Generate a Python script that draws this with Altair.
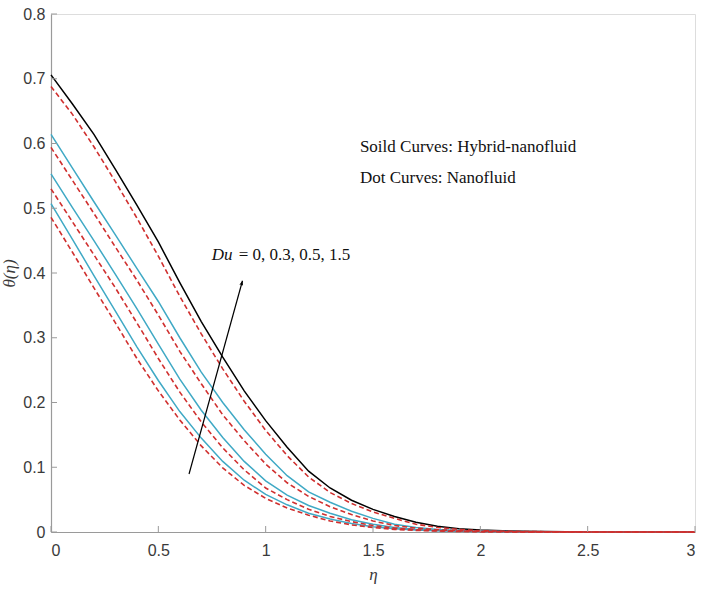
import altair as alt
import pandas as pd

# eta grid
eta = [0.0, 0.1, 0.2, 0.3, 0.4, 0.5, 0.6, 0.7, 0.8, 0.9, 1.0, 1.1, 1.2, 1.3, 1.4,
       1.5, 1.6, 1.7, 1.8, 1.9, 2.0, 2.2, 2.4, 2.6, 3.0]

# Hybrid nanofluid (solid) and nanofluid (dashed) temperature profiles
hyb_du15 = [0.706, 0.661, 0.614, 0.560, 0.505, 0.448, 0.385, 0.325, 0.270, 0.218, 0.172,
            0.131, 0.094, 0.068, 0.049, 0.035, 0.024, 0.015, 0.009, 0.005, 0.003, 0.001,
            0.0003, 0.0001, 0.0]
nano_du15 = [0.688, 0.645, 0.595, 0.541, 0.485, 0.426, 0.364, 0.306, 0.252, 0.202, 0.157,
             0.118, 0.085, 0.061, 0.044, 0.031, 0.021, 0.012, 0.007, 0.004, 0.002, 0.0007,
             0.0002, 0.0, 0.0]
hyb_du05 = [0.614, 0.562, 0.510, 0.459, 0.407, 0.356, 0.300, 0.247, 0.200, 0.158, 0.120,
            0.087, 0.062, 0.046, 0.032, 0.021, 0.012, 0.007, 0.004, 0.0025, 0.0015, 0.0005,
            0.0001, 0.0, 0.0]
nano_du05 = [0.594, 0.543, 0.492, 0.440, 0.389, 0.335, 0.279, 0.229, 0.181, 0.141, 0.105,
             0.076, 0.055, 0.039, 0.027, 0.017, 0.010, 0.006, 0.0035, 0.002, 0.001, 0.0003,
             0.0, 0.0, 0.0]
hyb_du03 = [0.553, 0.501, 0.450, 0.398, 0.345, 0.290, 0.236, 0.188, 0.146, 0.109, 0.079,
            0.057, 0.041, 0.029, 0.019, 0.012, 0.007, 0.004, 0.0025, 0.0015, 0.001, 0.0003,
            0.0, 0.0, 0.0]
nano_du03 = [0.530, 0.479, 0.428, 0.377, 0.323, 0.268, 0.216, 0.170, 0.130, 0.096, 0.068,
             0.050, 0.035, 0.024, 0.016, 0.010, 0.006, 0.0035, 0.002, 0.0012, 0.0007, 0.0002,
             0.0, 0.0, 0.0]
hyb_du0 = [0.507, 0.452, 0.396, 0.341, 0.286, 0.234, 0.186, 0.145, 0.109, 0.080, 0.058,
           0.042, 0.029, 0.020, 0.013, 0.008, 0.005, 0.003, 0.0018, 0.001, 0.0006, 0.0002,
           0.0, 0.0, 0.0]
nano_du0 = [0.486, 0.432, 0.377, 0.323, 0.268, 0.218, 0.173, 0.133, 0.099, 0.072, 0.052,
            0.037, 0.026, 0.017, 0.011, 0.007, 0.004, 0.0025, 0.0015, 0.0009, 0.0005, 0.0001,
            0.0, 0.0, 0.0]

series_names = ["hyb_du15", "hyb_du05", "hyb_du03", "hyb_du0",
                "nano_du15", "nano_du05", "nano_du03", "nano_du0"]
series_vals = [hyb_du15, hyb_du05, hyb_du03, hyb_du0,
               nano_du15, nano_du05, nano_du03, nano_du0]
series_kind = ["solid", "solid", "solid", "solid", "dashed", "dashed", "dashed", "dashed"]
series_color = ["#000000", "#3fa9c5", "#3fa9c5", "#3fa9c5",
                "#d0302f", "#d0302f", "#d0302f", "#d0302f"]

x_ticks = [0, 0.5, 1, 1.5, 2, 2.5, 3]
y_ticks = [0, 0.1, 0.2, 0.3, 0.4, 0.5, 0.6, 0.7, 0.8]

# annotation arrow (data coordinates) and texts
arrow_eta = [0.643, 0.892]
arrow_theta = [0.0896, 0.388]
du_label_pos = (0.749, 0.428)
legend_pos = (1.439, 0.595, 0.546)
legend_text = ["Soild Curves: Hybrid-nanofluid", "Dot Curves: Nanofluid"]

rows = []
for name, vals, kind, col in zip(series_names, series_vals, series_kind, series_color):
    for e, v in zip(eta, vals):
        rows.append({"eta": e, "theta": v, "series": name, "kind": kind, "col": col})
df = pd.DataFrame(rows)

W, H = 644, 518
xs = alt.Scale(domain=[0, 3], nice=False, zero=False)
ys = alt.Scale(domain=[0, 0.8], nice=False, zero=False)

label_font = "Liberation Sans"
axis_color = "#9a9a9a"

xaxis = alt.Axis(values=x_ticks, tickSize=0, domainColor=axis_color, domainWidth=1.2,
                 labelFont=label_font, labelFontSize=16, labelColor="#3a3a3a",
                 labelPadding=10, grid=False, title="η", titleFont="Liberation Serif",
                 titleFontStyle="italic", titleFontWeight="normal", titleFontSize=17,
                 titleColor="#3a3a3a", titlePadding=8, labelExpr="datum.value + ''")
yaxis = alt.Axis(values=y_ticks, tickSize=0, domainColor=axis_color, domainWidth=1.2,
                 labelFont=label_font, labelFontSize=16, labelColor="#3a3a3a",
                 labelPadding=6, grid=False, title="θ(η)", titleFont="Liberation Serif",
                 titleFontStyle="italic", titleFontWeight="normal", titleFontSize=17,
                 titleColor="#3a3a3a", titlePadding=4, labelExpr="datum.value + ''")

base = alt.Chart(df)

solid = base.transform_filter(alt.datum.kind == "solid").mark_line(strokeWidth=1.5).encode(
    x=alt.X("eta:Q", scale=xs, axis=xaxis),
    y=alt.Y("theta:Q", scale=ys, axis=yaxis),
    color=alt.Color("col:N", scale=None),
    detail="series:N",
)
dashed = base.transform_filter(alt.datum.kind == "dashed").mark_line(
    strokeWidth=1.6, strokeDash=[5, 3]).encode(
    x=alt.X("eta:Q", scale=xs),
    y=alt.Y("theta:Q", scale=ys),
    color=alt.Color("col:N", scale=None),
    detail="series:N",
)

xt_df = pd.DataFrame({"v": x_ticks})
yt_df = pd.DataFrame({"v": y_ticks})
xtick_marks = alt.Chart(xt_df).mark_rule(color=axis_color, strokeWidth=1).encode(
    x=alt.X("v:Q", scale=xs), y=alt.value(H), y2=alt.value(H - 6))
ytick_marks = alt.Chart(yt_df).mark_rule(color=axis_color, strokeWidth=1).encode(
    y=alt.Y("v:Q", scale=ys), x=alt.value(0), x2=alt.value(6))

arrow_df = pd.DataFrame({"eta": [arrow_eta[0]], "theta": [arrow_theta[0]],
                         "eta2": [arrow_eta[1]], "theta2": [arrow_theta[1]]})
arrow_line = alt.Chart(arrow_df).mark_rule(color="black", strokeWidth=1.2).encode(
    x=alt.X("eta:Q", scale=xs), y=alt.Y("theta:Q", scale=ys),
    x2="eta2:Q", y2="theta2:Q")
head_df = pd.DataFrame({"eta": [arrow_eta[1]], "theta": [arrow_theta[1]]})
arrow_head = alt.Chart(head_df).mark_point(
    shape="M 0 0 L -0.4 1 L 0 0.8 L 0.4 1 Z", filled=True, color="black",
    size=90, opacity=1, angle=15.5).encode(
    x=alt.X("eta:Q", scale=xs), y=alt.Y("theta:Q", scale=ys))

du_df = pd.DataFrame({"eta": [du_label_pos[0]], "theta": [du_label_pos[1]]})
du_italic = alt.Chart(du_df).mark_text(
    text="Du", font="Liberation Serif", fontStyle="italic", fontSize=17,
    align="left", baseline="middle", color="#111").encode(
    x=alt.X("eta:Q", scale=xs), y=alt.Y("theta:Q", scale=ys))
du_rest = alt.Chart(du_df).mark_text(
    text="= 0, 0.3, 0.5, 1.5", font="Liberation Serif", fontSize=17,
    align="left", baseline="middle", color="#111", dx=27).encode(
    x=alt.X("eta:Q", scale=xs), y=alt.Y("theta:Q", scale=ys))

leg_df = pd.DataFrame({"eta": [legend_pos[0], legend_pos[0]],
                       "theta": [legend_pos[1], legend_pos[2]],
                       "txt": legend_text})
leg_text = alt.Chart(leg_df).mark_text(
    font="Liberation Serif", fontSize=17, align="left", baseline="middle",
    color="#111").encode(
    x=alt.X("eta:Q", scale=xs), y=alt.Y("theta:Q", scale=ys), text="txt:N")

chart = alt.layer(
    solid, dashed, xtick_marks, ytick_marks, arrow_line, arrow_head,
    du_italic, du_rest, leg_text
).properties(
    width=W, height=H,
    padding={"left": 51, "top": 14, "right": 6, "bottom": 57},
    autosize=alt.AutoSizeParams(type="none"),
).configure_view(stroke=None).configure(background="white")

chart.save("out.html", embed_options={"renderer": "svg", "actions": False})
